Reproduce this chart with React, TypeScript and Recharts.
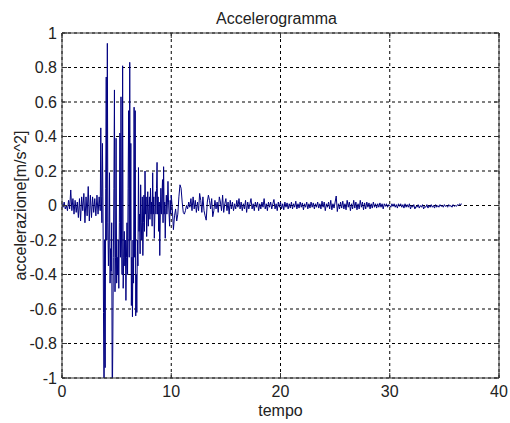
import {
  CartesianGrid,
  Label,
  Line,
  LineChart,
  ReferenceLine,
  XAxis,
  YAxis,
} from "recharts";

// Accelerogram samples in segments (start time, step, values)
const onsetStart = 0;
const onsetStep = 0.1;
const onset = [
  0.01, -0.01, 0.02, -0.02, 0.0, -0.03, 0.03, -0.02, 0.09, -0.03,
  0.04, -0.05, 0.03, -0.04, 0.02, -0.07, 0.04, -0.09, 0.05, -0.03,
  0.07, -0.1, 0.05, -0.06, 0.11, -0.09, 0.06, -0.07, 0.05, -0.04,
  0.04, -0.06, 0.06, -0.05, 0.05,
];

const strongStart = 3.5;
const strongStep = 0.05;
const strong = [
  -0.03, 0.45, 0.05, -0.1, 0.36, 0.0, -0.62, -1.15, -0.2, -0.94,
  0.1, 0.745, -0.2, 0.94, -0.1, -0.35, -0.2, 0.19, -0.45, -0.25,
  -0.38, -0.1, -1.2, -0.8, -0.3, 0.1, 0.67, -0.5, -0.3, 0.39,
  -0.45, -0.3, -0.4, -0.2, -0.48, -0.1, 0.42, -0.3, 0.63, -0.2,
  -0.4, 0.81, -0.48, -0.3, -0.15, -0.35, -0.2, -0.55, -0.3, -0.1,
  -0.4, 0.1, 0.55, -0.3, 0.83, -0.2, 0.36, -0.58, -0.3, -0.645,
  -0.2, -0.45, 0.57, -0.3, 0.55, -0.64, -0.4, -0.62, -0.2, -0.35,
  0.22, -0.15, -0.05, -0.28, 0.12, -0.1, -0.2, 0.05, -0.29, -0.1,
  0.06, -0.15, 0.2, -0.05, 0.05, -0.18, -0.05, 0.08, -0.12, -0.02,
  0.05, -0.08, 0.1, -0.05, 0.02, -0.12, 0.19, -0.05, 0.05, -0.19,
  -0.05, 0.08, -0.05, 0.1, 0.25, -0.05, 0.05, -0.15, 0.02, -0.29,
  -0.05, 0.1, -0.05, 0.05, 0.15, -0.1, 0.225, -0.05, 0.02, -0.19,
  -0.02, 0.06, -0.05, 0.02, 0.14, 0.02, -0.05, -0.12, 0.03, -0.05,
];

const codaStart = 10;
const codaStep = 0.1;
const coda = [
  0.06, -0.02, -0.14, -0.06, -0.02, -0.09, -0.05, 0.05, 0.12, 0.1,
  0.02, -0.04, -0.05, -0.03, 0.0, -0.02, 0.02, -0.01, 0.04, -0.03,
  0.05, -0.02, 0.03, -0.04, 0.02, -0.03, 0.07, 0.03, -0.04, 0.05,
  -0.03, -0.06, -0.085, 0.02, 0.06, 0.03, -0.02, 0.04, -0.065, -0.03,
  0.03, -0.02, 0.02, -0.04, 0.05, 0.02, -0.03, 0.06, -0.04, 0.01,
  0.04, -0.03, 0.02, -0.05, 0.03, -0.02, 0.02, -0.03, 0.01, -0.02,
  0.03, -0.01, 0.04, -0.02, 0.02, -0.03, 0.01, -0.02, 0.03, -0.04,
  0.02, -0.02, 0.01, 0.04, -0.02, 0.01, -0.03, 0.02, -0.01, 0.02,
  -0.03, 0.01, -0.02, 0.02, -0.01, 0.04, -0.02, 0.01, -0.03, 0.02,
  -0.01, 0.02, -0.02, 0.01, 0.035, -0.02, 0.01, -0.03, 0.02, -0.01,
];

const lateStart = 20;
const lateStep = 0.1;
const late = [
  0.02, -0.02, 0.01, -0.025, 0.02, -0.01, 0.015, -0.02, 0.01, -0.015,
  0.02, -0.02, 0.01, -0.01, 0.025, -0.02, 0.01, -0.015, 0.02, -0.01,
  0.015, -0.025, 0.01, -0.01, 0.02, -0.02, 0.01, -0.015, 0.02, -0.01,
  0.015, -0.02, 0.01, -0.01, 0.02, -0.015, 0.01, -0.02, 0.025, -0.01,
  0.02, -0.03, 0.01, -0.01, 0.02, -0.02, 0.03, -0.025, 0.01, -0.015,
  0.02, 0.055, -0.035, 0.01, -0.02, 0.02, -0.015, 0.025, -0.02, 0.01,
  -0.025, 0.03, -0.01, 0.02, -0.03, 0.01, -0.02, 0.03, -0.015, 0.02,
  -0.025, 0.01, -0.02, 0.03, -0.01, 0.02, -0.025, 0.015, -0.02, 0.02,
  -0.01, 0.015, -0.02, 0.01, -0.015, 0.02, -0.01, 0.01, -0.015, 0.01,
  -0.01, 0.015, -0.01, 0.01, -0.02, 0.01, -0.005, 0.01, -0.01, 0.005,
];

const tailStart = 30;
const tailStep = 0.1;
const tail = [
  0.0, -0.01, 0.01, -0.005, 0.01, -0.01, 0.005, -0.015, 0.01, -0.005,
  0.01, -0.01, 0.005, -0.015, 0.01, -0.01, 0.005, -0.01, 0.01, -0.02,
  0.0, -0.01, 0.005, -0.02, -0.005, -0.01, 0.005, -0.015, 0.0, -0.01,
  0.005, -0.02, -0.005, -0.01, 0.005, -0.015, 0.0, -0.01, 0.005, -0.01,
  0.0, -0.015, 0.005, -0.01, 0.0, -0.01, 0.005, -0.005, 0.0, -0.01,
  0.005, -0.005, 0.0, -0.01, 0.005, -0.005, 0.0, -0.01, 0.005, -0.005,
  0.0, -0.005, 0.005, 0.0, 0.01, 0.005, 0.01,
];

const xTicks = [0, 10, 20, 30, 40];
const yTicks = [-1, -0.8, -0.6, -0.4, -0.2, 0, 0.2, 0.4, 0.6, 0.8, 1];

const segment = (start: number, step: number, values: number[]) =>
  values.map((a, i) => ({ t: +(start + i * step).toFixed(3), a }));

const data = [
  ...segment(onsetStart, onsetStep, onset),
  ...segment(strongStart, strongStep, strong),
  ...segment(codaStart, codaStep, coda),
  ...segment(lateStart, lateStep, late),
  ...segment(tailStart, tailStep, tail),
];

const W = 510;
const H = 423;
const LEFT = 62;
const RIGHT = 499;
const TOP = 33;
const BOTTOM = 378;
const FONT = '"Liberation Sans", Arial, sans-serif';
const AXIS = "#333";
const TEXT = "#222";

function BottomTick({ x, payload }: any) {
  return (
    <g>
      <line x1={x} x2={x} y1={BOTTOM} y2={BOTTOM - 5} stroke={AXIS} />
      <line x1={x} x2={x} y1={TOP} y2={TOP + 5} stroke={AXIS} />
      <text x={x} y={BOTTOM + 19} textAnchor="middle" fill={TEXT} fontSize={16} fontFamily={FONT}>
        {payload.value}
      </text>
    </g>
  );
}

function LeftTick({ y, payload }: any) {
  return (
    <g>
      <line x1={LEFT} x2={LEFT + 5} y1={y} y2={y} stroke={AXIS} />
      <line x1={RIGHT} x2={RIGHT - 5} y1={y} y2={y} stroke={AXIS} />
      <text x={LEFT - 5} y={y + 5.5} textAnchor="end" fill={TEXT} fontSize={16} fontFamily={FONT}>
        {String(payload.value)}
      </text>
    </g>
  );
}

export default function App() {
  return (
    <div style={{ position: "absolute", left: 0, top: 0, width: W, height: H, background: "#fff" }}>
      <div
        style={{
          position: "absolute",
          left: LEFT - 4,
          width: RIGHT - LEFT,
          top: 10.5,
          textAlign: "center",
          fontFamily: FONT,
          fontSize: 16,
          lineHeight: "16px",
          color: TEXT,
        }}
      >
        Accelerogramma
      </div>
      <LineChart
        width={W}
        height={H}
        data={data}
        margin={{ top: TOP, right: W - RIGHT, bottom: 7, left: 0 }}
      >
        <CartesianGrid stroke="#000" strokeDasharray="3 3" />
        <XAxis
          type="number"
          dataKey="t"
          domain={[0, 40]}
          ticks={xTicks}
          interval={0}
          height={38}
          tickSize={0}
          tickMargin={0}
          tickLine={false}
          axisLine={{ stroke: AXIS }}
          tick={<BottomTick />}
        >
          <Label
            value="tempo"
            position="insideBottom"
            offset={0}
            style={{ fontFamily: FONT, fontSize: 16, fill: TEXT }}
          />
        </XAxis>
        <YAxis
          type="number"
          domain={[-1, 1]}
          ticks={yTicks}
          interval={0}
          allowDataOverflow
          width={LEFT}
          tickSize={0}
          tickMargin={0}
          tickLine={false}
          axisLine={{ stroke: AXIS }}
          tick={<LeftTick />}
        >
          <Label
            value="accelerazione[m/s^2]"
            angle={-90}
            position="insideLeft"
            offset={20}
            style={{ fontFamily: FONT, fontSize: 16, fill: TEXT, textAnchor: "middle" }}
          />
        </YAxis>
        <ReferenceLine y={1} stroke={AXIS} />
        <ReferenceLine x={40} stroke={AXIS} />
        <Line
          type="linear"
          dataKey="a"
          stroke="#000080"
          strokeWidth={1}
          dot={false}
          activeDot={false}
          isAnimationActive={false}
        />
      </LineChart>
    </div>
  );
}
